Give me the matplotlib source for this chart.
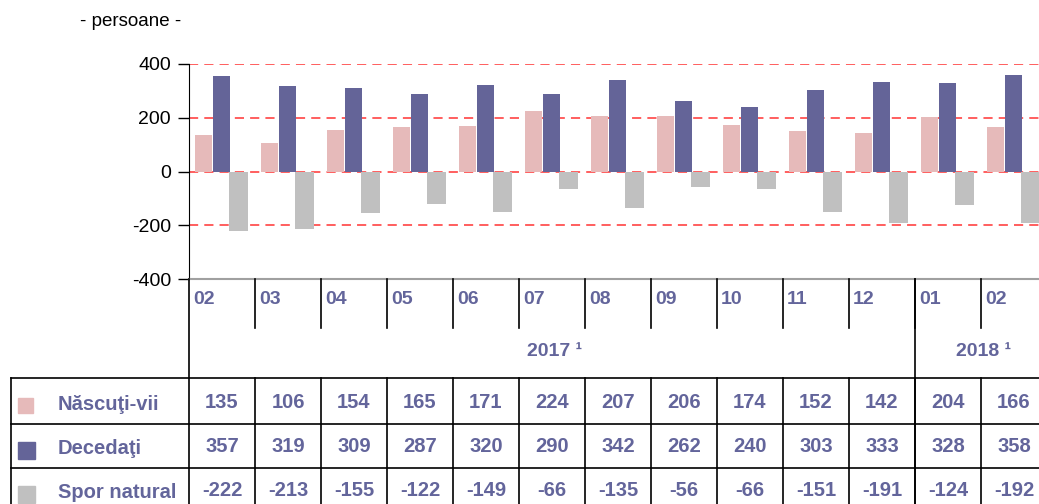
import matplotlib
matplotlib.use("Agg")
import matplotlib.pyplot as plt
from matplotlib import font_manager
import numpy as np

months = ["02", "03", "04", "05", "06", "07", "08", "09", "10", "11", "12", "01", "02"]
years = ["2017 ¹", "2018 ¹"]
year_counts = [11, 2]
series_names = ["Născuţi-vii", "Decedaţi", "Spor natural"]
nascuti = [135, 106, 154, 165, 171, 224, 207, 206, 174, 152, 142, 204, 166]
decedati = [357, 319, 309, 287, 320, 290, 342, 262, 240, 303, 333, 328, 358]
spor = [-222, -213, -155, -122, -149, -66, -135, -56, -66, -151, -191, -124, -192]
yticks = [-400, -200, 0, 200, 400]
colors = ["#E6BABA", "#646498", "#C0C0C0"]
text_color = "#63659B"

names = {f.name for f in font_manager.fontManager.ttflist}
narrow_ok = "Liberation Sans Narrow" in names
narrow = "Liberation Sans Narrow" if narrow_ok else "Liberation Sans"
reg = "Liberation Sans" if "Liberation Sans" in names else "DejaVu Sans"
tsize = 16 if narrow_ok else 14.5

W, H = 1039, 504
fig = plt.figure(figsize=(W / 100, H / 100), dpi=100)

# main chart axes (pixel layout)
L, R, T, B = 189, 1047, 64, 279
ax = fig.add_axes([L / W, 1 - B / H, (R - L) / W, (B - T) / H])
n = len(months)
x = np.arange(n)
bw = 0.265
ax.bar(x + 0.09, nascuti, width=bw, align="edge", color=colors[0], zorder=3)
ax.bar(x + 0.36, decedati, width=bw, align="edge", color=colors[1], zorder=3)
ax.bar(x + 0.61, spor, width=0.285, align="edge", color=colors[2], zorder=3)
ax.set_xlim(0, n)
ax.set_ylim(-400, 400)
ax.set_yticks(yticks)
ax.set_yticklabels([str(v) for v in yticks], fontsize=14, family=reg)
ax.set_xticks([])
for v in yticks[1:]:
    ax.axhline(v, color="#FF3333", lw=1.1, ls=(0, (6, 4)), zorder=2)
for s in ["top", "right"]:
    ax.spines[s].set_visible(False)
ax.spines["bottom"].set_color("#A0A0A0")
ax.spines["bottom"].set_linewidth(1.5)
ax.spines["left"].set_color("black")
ax.tick_params(axis="y", length=8, width=1, direction="out", pad=5)
ax.patch.set_alpha(0)

# overlay in pixel coordinates
ov = fig.add_axes([0, 0, 1, 1])
ov.set_xlim(0, W)
ov.set_ylim(H, 0)
ov.axis("off")
ov.patch.set_alpha(0)

def colx(i):
    return fig.transFigure.inverted().transform(ax.transData.transform((i, 0)))[0] * W

ov.text(131, 22, "- persoane -", ha="center", va="center", fontsize=13.5, family=reg)

lc = "black"
lw = 1.2
row_top, r1, r2, r3 = 378, 424, 468, 512
ov.plot([L, L], [B, H], color=lc, lw=lw)
for i in range(1, n):
    xp = colx(i)
    ov.plot([xp, xp], [B, 328], color=lc, lw=lw)
    ov.plot([xp, xp], [row_top, H], color=lc, lw=lw)
cum = np.cumsum(year_counts)
for c in cum[:-1]:
    xp = colx(c)
    ov.plot([xp, xp], [B, H], color=lc, lw=lw)
for yy in [row_top, r1, r2]:
    ov.plot([11, W], [yy, yy], color=lc, lw=lw)
ov.plot([11, 11], [row_top, H], color=lc, lw=lw)

for i, m in enumerate(months):
    ov.text(colx(i) + 4, 300, m, ha="left", va="center", fontsize=tsize - 0.5,
            family=narrow, weight="bold", color=text_color)
start = 0
for yl, c in zip(years, year_counts):
    xc = (colx(start) + colx(start + c)) / 2
    ov.text(xc + 3, 351, yl, ha="center", va="center", fontsize=tsize - 0.5,
            family=narrow, weight="bold", color=text_color)
    start += c

rows = [nascuti, decedati, spor]
ycent = [402, 446, 490]
sq = [(18, 398, 15, 15), (18, 442, 17, 17), (18, 486, 17, 17)]
for k, (vals, yc) in enumerate(zip(rows, ycent)):
    sx, sy, sw, sh = sq[k]
    ov.add_patch(plt.Rectangle((sx, sy), sw, sh, color=colors[k]))
    ov.text(58, yc + 2, series_names[k], ha="left", va="center", fontsize=tsize,
            family=narrow, weight="bold", color=text_color)
    for i, v in enumerate(vals):
        xc = (colx(i) + colx(i + 1)) / 2
        ov.text(xc, yc, str(v), ha="center", va="center", fontsize=tsize,
                family=narrow, weight="bold", color=text_color)

fig.savefig("out.png", dpi=100)
